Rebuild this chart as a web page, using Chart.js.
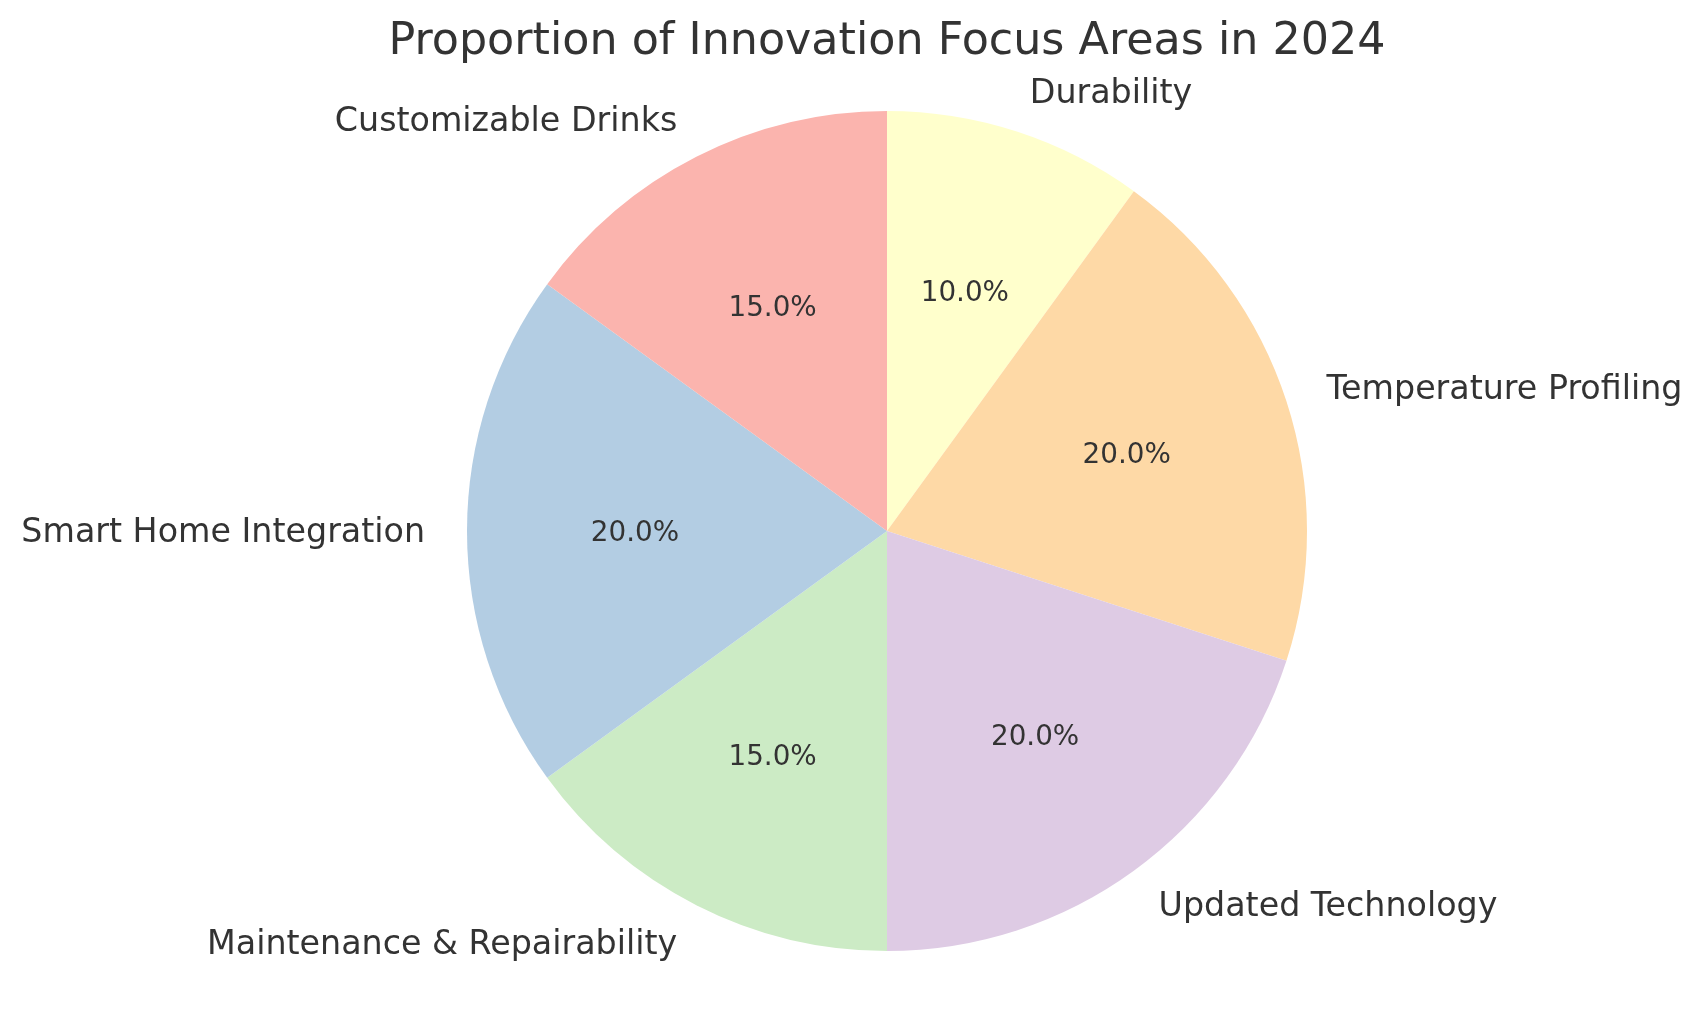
<!DOCTYPE html>
<html>
<head>
<meta charset="utf-8">
<title>Proportion of Innovation Focus Areas in 2024</title>
<script src="https://cdn.jsdelivr.net/npm/chart.js@4/dist/chart.umd.min.js"></script>
<style>
  html, body { margin: 0; padding: 0; background: #fff; }
  #wrap { width: 1702px; height: 1014px; }
</style>
</head>
<body>
<div id="wrap"><canvas id="pieChart" width="1702" height="1014"></canvas></div>
<script>
// data, in the order matplotlib draws it (counter-clockwise from the top)
const categories = ['Customizable Drinks', 'Smart Home Integration', 'Maintenance & Repairability',
                    'Updated Technology', 'Temperature Profiling', 'Durability'];
const shares = [15, 20, 15, 20, 20, 10];
const colors = ['#fbb4ae', '#b3cde3', '#ccebc5', '#decbe4', '#fed9a6', '#ffffcc'];
const chartTitle = 'Proportion of Innovation Focus Areas in 2024';

// Chart.js goes clockwise, so reverse everything to get the same layout
const labelsCw = categories.slice().reverse();
const valuesCw = shares.slice().reverse();
const colorsCw = colors.slice().reverse();

const FONT = '"DejaVu Sans", sans-serif';
const TEXT = '#333333';
const DY = 2.5; // matplotlib centres on the full text box, a bit lower than canvas 'middle'

// labels at 1.1 r, percentages at 0.6 r, title on top
const pieText = {
  id: 'pieText',
  afterDraw(chart) {
    const ctx = chart.ctx;
    const meta = chart.getDatasetMeta(0);
    const total = valuesCw.reduce((a, b) => a + b, 0);
    ctx.save();
    ctx.fillStyle = TEXT;
    ctx.textBaseline = 'middle';
    meta.data.forEach((arc, i) => {
      const p = arc.getProps(['x', 'y', 'startAngle', 'endAngle', 'outerRadius'], true);
      const mid = (p.startAngle + p.endAngle) / 2;
      const c = Math.cos(mid), s = Math.sin(mid);
      // category label
      ctx.font = '33.3px ' + FONT;
      ctx.textAlign = c < 0 ? 'right' : 'left';
      ctx.fillText(labelsCw[i], p.x + c * p.outerRadius * 1.1, p.y + s * p.outerRadius * 1.1 + DY);
      // percent
      ctx.font = '27.8px ' + FONT;
      ctx.textAlign = 'center';
      const pct = (valuesCw[i] / total * 100).toFixed(1) + '%';
      ctx.fillText(pct, p.x + c * p.outerRadius * 0.6, p.y + s * p.outerRadius * 0.6 + DY);
    });
    // title
    const cx = (chart.chartArea.left + chart.chartArea.right) / 2;
    ctx.font = '44.4px ' + FONT;
    ctx.textAlign = 'center';
    ctx.fillText(chartTitle, cx, 42.5);
    ctx.restore();
  }
};

new Chart(document.getElementById('pieChart'), {
  type: 'pie',
  data: {
    labels: labelsCw,
    datasets: [{
      data: valuesCw,
      backgroundColor: colorsCw,
      borderWidth: 0
    }]
  },
  options: {
    responsive: false,
    animation: false,
    layout: { padding: { top: 111, bottom: 63, left: 467, right: 395 } },
    plugins: {
      legend: { display: false },
      tooltip: { enabled: false },
      title: { display: false }
    }
  },
  plugins: [pieText]
});
</script>
</body>
</html>
